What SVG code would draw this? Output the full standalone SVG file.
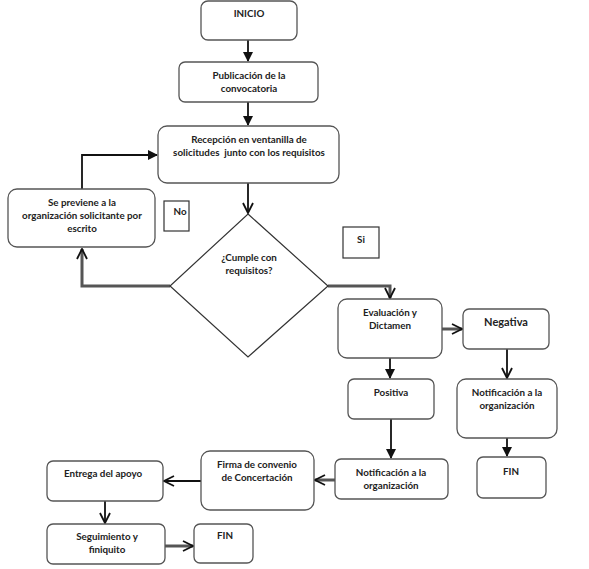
<svg xmlns="http://www.w3.org/2000/svg" width="589" height="569" viewBox="0 0 589 569">
<style>
.box{fill:#fff;stroke:#555;stroke-width:1.3}
.sq{fill:#fff;stroke:#333;stroke-width:1.2}
.t{font-family:Lato,"Open Sans","Liberation Sans",sans-serif;font-weight:bold;font-size:9.8px;fill:#222;text-anchor:middle}
.c{fill:none;stroke:#111;stroke-width:1.8}
.th{fill:none;stroke:#555;stroke-width:3}
</style>
<defs>
<marker id="fill" viewBox="0 0 10 10" refX="9" refY="5" markerWidth="10" markerHeight="10" markerUnits="userSpaceOnUse" orient="auto">
<path d="M0,0 L10,5 L0,10 z" fill="#111"/>
</marker>
<marker id="open" viewBox="0 0 12 12" refX="11" refY="6" markerWidth="12" markerHeight="12" markerUnits="userSpaceOnUse" orient="auto">
<path d="M1,1 L11,6 L1,11" fill="none" stroke="#111" stroke-width="1.8"/>
</marker>
</defs>
<rect width="589" height="569" fill="#fff"/>
<g id="connectors">
<path class="c" d="M248,40 V61" marker-end="url(#fill)"/>
<path class="c" d="M248,102 V125" marker-end="url(#fill)"/>
<path class="c" d="M248,183 V213" marker-end="url(#open)"/>
<path class="c" d="M82,189 V155 H157" marker-end="url(#fill)"/>
<path class="th" d="M170,286 H82 V249" marker-end="url(#open)"/>
<path class="th" d="M328,286 H390 V298" marker-end="url(#open)"/>
<path class="th" d="M442,329 H462" marker-end="url(#open)"/>
<path class="c" d="M390,358 V378" marker-end="url(#fill)"/>
<path class="c" d="M507,349 V378" marker-end="url(#open)"/>
<path class="c" d="M507,438 V456" marker-end="url(#fill)"/>
<path class="c" d="M391,419 V458" marker-end="url(#fill)"/>
<path class="th" d="M335,480 H315" marker-end="url(#open)"/>
<path class="c" d="M201,481 H164" marker-end="url(#open)"/>
<path class="c" d="M105,501 V523" marker-end="url(#open)"/>
<path class="th" d="M165,546 H193" marker-end="url(#open)"/>
</g>
<g id="inicio"><rect class="box" x="201" y="1" width="96" height="39" rx="7"/><text class="t" x="249" y="17">INICIO</text></g>
<g id="publicacion"><rect class="box" x="179" y="62" width="139" height="40" rx="6"/><text class="t" x="249" y="79">Publicación de la</text><text class="t" x="249" y="92">convocatoria</text></g>
<g id="recepcion"><rect class="box" x="158" y="126" width="181" height="57" rx="9"/><text class="t" x="249" y="143">Recepción en ventanilla de</text><text class="t" x="249" y="156">solicitudes&#160; junto con los requisitos</text></g>
<g id="previene"><rect class="box" x="8" y="189" width="147" height="58" rx="9"/><text class="t" x="82" y="206">Se previene a la</text><text class="t" x="82" y="219">organización solicitante por</text><text class="t" x="82" y="232">escrito</text></g>
<g id="no"><rect class="sq" x="164" y="201" width="25" height="30"/><text class="t" x="180" y="215">No</text></g>
<g id="si"><rect class="sq" x="343" y="227" width="36" height="31"/><text class="t" x="361" y="243">Si</text></g>
<g id="decision"><path d="M248,214 L328,286 L248,357 L170,286 Z" fill="#fff" stroke="#333" stroke-width="1.2"/><text class="t" x="249" y="261">¿Cumple con</text><text class="t" x="249" y="274">requisitos?</text></g>
<g id="evaluacion"><rect class="box" x="338" y="299" width="104" height="59" rx="9"/><text class="t" x="390" y="316">Evaluación y</text><text class="t" x="390" y="329">Dictamen</text></g>
<g id="negativa"><rect class="box" x="463" y="309" width="86" height="40" rx="6"/><text class="t" x="506" y="326" style="font-size:11px">Negativa</text></g>
<g id="positiva"><rect class="box" x="348" y="379" width="86" height="40" rx="6"/><text class="t" x="391" y="396">Positiva</text></g>
<g id="notif_neg"><rect class="box" x="457" y="379" width="100" height="59" rx="9"/><text class="t" x="507" y="396">Notificación a la</text><text class="t" x="507" y="409">organización</text></g>
<g id="fin_neg"><rect class="box" x="477" y="457" width="69" height="41" rx="6"/><text class="t" x="511" y="475">FIN</text></g>
<g id="notif_pos"><rect class="box" x="335" y="459" width="113" height="40" rx="6"/><text class="t" x="391" y="476">Notificación a la</text><text class="t" x="391" y="489">organización</text></g>
<g id="firma"><rect class="box" x="201" y="451" width="113" height="59" rx="9"/><text class="t" x="257" y="468">Firma de convenio</text><text class="t" x="257" y="481">de Concertación</text></g>
<g id="entrega"><rect class="box" x="47" y="461" width="116" height="40" rx="6"/><text class="t" x="103" y="477">Entrega del apoyo</text></g>
<g id="seguimiento"><rect class="box" x="47" y="524" width="118" height="40" rx="6"/><text class="t" x="107" y="540">Seguimiento y</text><text class="t" x="107" y="553">finiquito</text></g>
<g id="fin"><rect class="box" x="194" y="524" width="59" height="39" rx="6"/><text class="t" x="225" y="539">FIN</text></g>
</svg>
